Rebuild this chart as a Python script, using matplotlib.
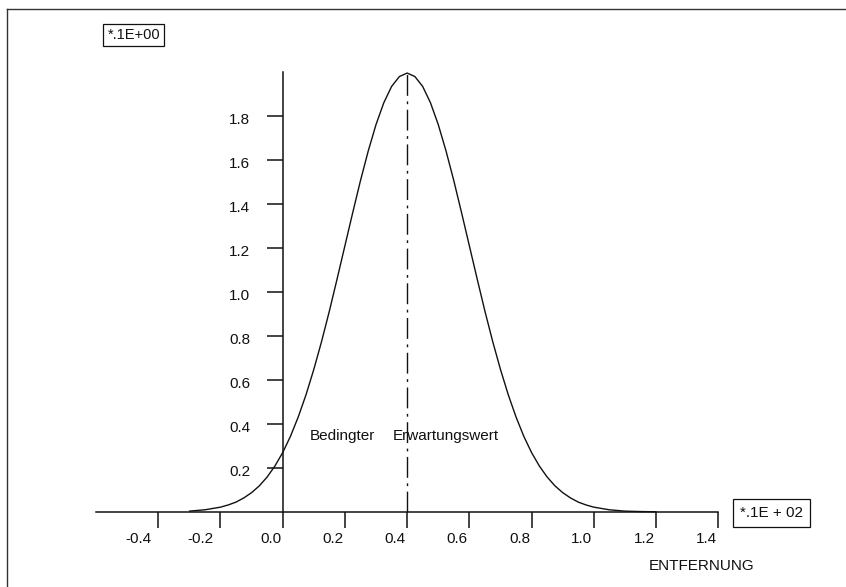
import matplotlib
matplotlib.use("Agg")
import matplotlib.pyplot as plt
import matplotlib.transforms as mtransforms
from matplotlib.lines import Line2D

plt.rcParams["font.family"] = ["Liberation Sans", "DejaVu Sans"]

# Entfernung (x 1E+02 -> units of 10) and density (x 1E+00)
entfernung = [-0.30, -0.25, -0.20, -0.175, -0.15, -0.125, -0.10, -0.075, -0.05, -0.025,
              0.00, 0.025, 0.05, 0.075, 0.10, 0.125, 0.15, 0.175, 0.20, 0.225,
              0.25, 0.275, 0.30, 0.325, 0.35, 0.375, 0.40, 0.425, 0.45, 0.475,
              0.50, 0.525, 0.55, 0.575, 0.60, 0.625, 0.65, 0.675, 0.70, 0.725,
              0.75, 0.775, 0.80, 0.825, 0.85, 0.875, 0.90, 0.925, 0.95, 0.975,
              1.00, 1.05, 1.10, 1.15, 1.20]
dichte = [0.004, 0.010, 0.022, 0.032, 0.045, 0.064, 0.088, 0.119, 0.159, 0.209,
          0.270, 0.344, 0.432, 0.533, 0.648, 0.775, 0.913, 1.060, 1.210, 1.360,
          1.506, 1.641, 1.761, 1.860, 1.934, 1.979, 1.995, 1.979, 1.934, 1.860,
          1.761, 1.641, 1.506, 1.360, 1.210, 1.060, 0.913, 0.775, 0.648, 0.533,
          0.432, 0.344, 0.270, 0.209, 0.159, 0.119, 0.088, 0.064, 0.045, 0.032,
          0.022, 0.010, 0.004, 0.002, 0.001]

erwartungswert = 0.40

x_ticks = [-0.4, -0.2, 0.0, 0.2, 0.4, 0.6, 0.8, 1.0, 1.2, 1.4]
x_tick_labels = ["-0.4", "-0.2", "0.0", "0.2", "0.4", "0.6", "0.8", "1.0", "1.2", "1.4"]
y_ticks = [0.2, 0.4, 0.6, 0.8, 1.0, 1.2, 1.4, 1.6, 1.8]
y_tick_labels = ["0.2", "0.4", "0.6", "0.8", "1.0", "1.2", "1.4", "1.6", "1.8"]

ink = "#111111"
fs = 11

fig = plt.figure(figsize=(8.46, 5.87), dpi=100)
ax = fig.add_axes([0, 0, 1, 1])
ax.patch.set_visible(False)
ax.set_xlim(-0.9087, 1.8107)
ax.set_ylim(-0.3409, 2.327)

# axes crossing at the origin, like the old plotter output
ax.spines[["top", "right"]].set_visible(False)
for side in ("left", "bottom"):
    ax.spines[side].set_position(("data", 0))
    ax.spines[side].set_linewidth(1.1)
    ax.spines[side].set_color(ink)
ax.spines["left"].set_bounds(0, 2.0)
ax.spines["bottom"].set_bounds(-0.6, 1.4)

ax.set_xticks(x_ticks, x_tick_labels)
ax.set_yticks(y_ticks, y_tick_labels)
ax.tick_params(axis="x", direction="out", length=11.5, width=1.1, pad=3,
               labelsize=fs, colors=ink)
ax.tick_params(axis="y", direction="out", length=11.5, width=1.1, pad=12,
               labelsize=fs, colors=ink)

# labels sit right-aligned against their tick
for lab in ax.get_xticklabels():
    lab.set_ha("right")
    dx = -0.07 if lab.get_text().startswith("-") else -0.015
    lab.set_transform(lab.get_transform()
                      + mtransforms.ScaledTranslation(dx, 0, fig.dpi_scale_trans))
for lab in ax.get_yticklabels():
    lab.set_transform(lab.get_transform()
                      + mtransforms.ScaledTranslation(0, -0.03, fig.dpi_scale_trans))

ax.plot(entfernung, dichte, color=ink, lw=1.0, solid_capstyle="round",
        solid_joinstyle="round")
ax.plot([erwartungswert, erwartungswert], [0, max(dichte)], color=ink, lw=1.0,
        linestyle=(0, (15, 4, 2, 4)))

ax.text(0.088, 0.345, "Bedingter", fontsize=fs, ha="left", va="center", color=ink)
ax.text(0.354, 0.345, "Erwartungswert", fontsize=fs, ha="left", va="center", color=ink)

fig.text(0.158, 0.940, "*.1E+00", fontsize=10.5, ha="center", va="center", color=ink,
         bbox=dict(boxstyle="square,pad=0.28", fc="white", ec=ink, lw=0.9))
fig.text(0.912, 0.126, "*.1E + 02", fontsize=fs, ha="center", va="center", color=ink,
         bbox=dict(boxstyle="square,pad=0.48", fc="white", ec=ink, lw=0.9))
fig.text(0.829, 0.035, "ENTFERNUNG", fontsize=fs, ha="center", va="center", color=ink)

# page frame (top and left edge of the scanned sheet)
fig.add_artist(Line2D([7 / 846, 1.0], [1 - 9 / 587, 1 - 9 / 587],
                      transform=fig.transFigure, color="#333333", lw=1.0))
fig.add_artist(Line2D([7 / 846, 7 / 846], [0.0, 1 - 9 / 587],
                      transform=fig.transFigure, color="#333333", lw=1.0))

fig.savefig("out.png", dpi=100)
plt.close(fig)
